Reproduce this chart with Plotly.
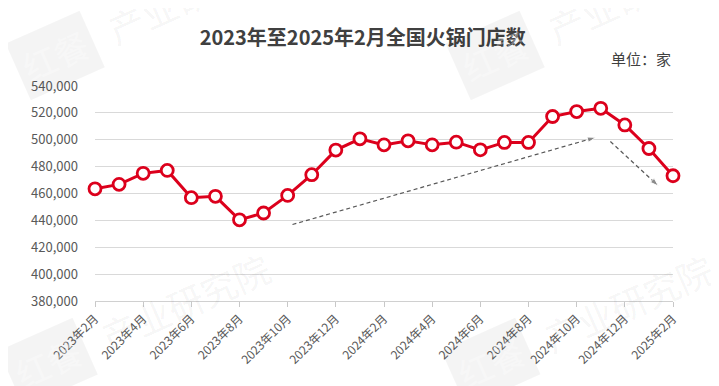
import plotly.graph_objects as go

months = ["2023年2月", "2023年3月", "2023年4月", "2023年5月", "2023年6月", "2023年7月",
          "2023年8月", "2023年9月", "2023年10月", "2023年11月", "2023年12月", "2024年1月",
          "2024年2月", "2024年3月", "2024年4月", "2024年5月", "2024年6月", "2024年7月",
          "2024年8月", "2024年9月", "2024年10月", "2024年11月", "2024年12月", "2025年1月",
          "2025年2月"]
stores = [463500, 466800, 475000, 477200, 456900, 457900, 440400, 445500, 458600, 474000,
          492300, 500700, 496200, 499200, 496200, 498200, 492500, 498000, 498000, 517300,
          521000, 523400, 511000, 493500, 473200]
tick_labels = months[::2]
y_ticks = [380000, 400000, 420000, 440000, 460000, 480000, 500000, 520000, 540000]

# trend arrows (x as month index, y as store count)
trend_up_x = [8.2, 20.8]
trend_up_y = [436900, 501800]
trend_down_x = [21.4, 23.4]
trend_down_y = [498700, 465500]

FONT = "Noto Sans CJK SC"
RED = "#dc001c"

x_idx = list(range(len(months)))

fig = go.Figure()

for tx, ty in [(trend_up_x, trend_up_y), (trend_down_x, trend_down_y)]:
    fig.add_trace(go.Scatter(
        x=tx, y=ty, mode="lines+markers",
        line=dict(color="#595959", width=1.2, dash="4px,3px"),
        marker=dict(symbol="arrow", size=[0, 9], angleref="previous", color="#595959"),
        hoverinfo="skip", cliponaxis=False, showlegend=False))

fig.add_trace(go.Scatter(
    x=x_idx, y=stores, mode="lines+markers",
    line=dict(color=RED, width=3),
    marker=dict(symbol="circle", size=12, color="white", line=dict(color=RED, width=2.8)),
    cliponaxis=False, showlegend=False,
    customdata=months, hovertemplate="%{customdata}: %{y:,}<extra></extra>"))

# faint watermarks (paper coords): logo box + text
wm_boxes = [(-0.069, 1.144), (0.692, 1.144), (-0.081, -0.284), (0.685, -0.288)]
wm_texts = [(0.168, 1.428), (0.929, 1.428), (0.156, 0.0), (0.922, -0.005)]
for (bx, by), (tx, ty) in zip(wm_boxes, wm_texts):
    fig.add_annotation(text="红餐", xref="paper", yref="paper", x=bx, y=by,
                       xanchor="center", yanchor="middle", showarrow=False, textangle=-24,
                       bgcolor="rgba(0,0,0,0.045)", borderpad=6,
                       font=dict(family=FONT, size=34, color="rgba(255,255,255,0.35)"))
    fig.add_annotation(text="产业研究院", xref="paper", yref="paper", x=tx, y=ty,
                       xanchor="center", yanchor="middle", showarrow=False, textangle=-24,
                       font=dict(family=FONT, size=36, color="rgba(0,0,0,0.055)"))

fig.add_annotation(text="单位：家", xref="paper", yref="paper", x=1.0, y=1.0,
                   xanchor="right", yanchor="middle", yshift=28, showarrow=False,
                   font=dict(family=FONT, size=15, color="#404040"))

fig.update_layout(
    width=711, height=378,
    margin=dict(l=87, r=46, t=78, b=85),
    paper_bgcolor="white", plot_bgcolor="white",
    title=dict(text="<b>2023年至2025年2月全国火锅门店数</b>", x=0.499, xanchor="center",
               y=0.921, yanchor="middle",
               font=dict(family=FONT, size=20, color="#404040")),
    font=dict(family=FONT, size=12, color="#595959"),
    xaxis=dict(range=[0, 24], tickmode="array", tickvals=x_idx[::2], ticktext=tick_labels,
               tickangle=-45, ticks="outside", ticklen=5, tickcolor="#c8c8c8",
               showgrid=False, showline=True, linecolor="#d0d0d0", linewidth=1,
               tickfont=dict(family=FONT, size=12, color="#595959"), zeroline=False),
    yaxis=dict(range=[380000, 540000], tickmode="array", tickvals=y_ticks,
               tickformat=",d", showgrid=True, gridcolor="#d9d9d9", gridwidth=1,
               zeroline=False, showline=False, ticks="", ticklabelstandoff=16,
               tickfont=dict(family=FONT, size=13, color="#595959")),
)

fig.write_html("out.html")
